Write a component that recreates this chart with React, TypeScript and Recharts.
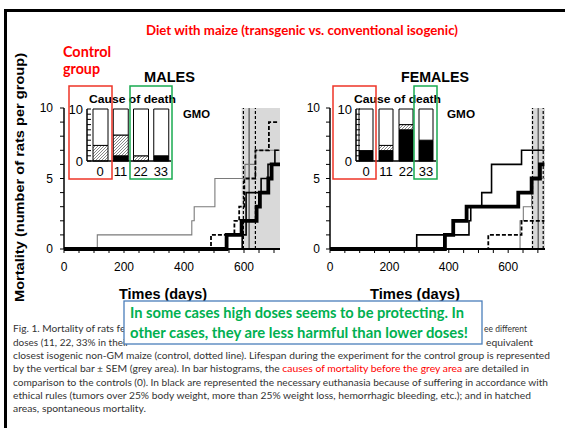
import React from 'react';
import { LineChart, Line, XAxis, YAxis, ReferenceArea, ReferenceLine, BarChart, Bar } from 'recharts';

// ---------- axis ticks ----------
const dayTicks = [0, 50, 100, 150, 200, 250, 300, 350, 400, 450, 500, 550, 600, 650, 700];
const dayLabels = [0, 200, 400, 600];
const mortalityTicks = [0, 1, 2, 3, 4, 5, 6, 7, 8, 9, 10];
const mortalityLabels = [0, 5, 10];
const insetLabels = [0, 10];

// ---------- cause-of-death histograms ----------
const doses = ['0', '11', '22', '33'];
const maleEuthanasia = [0, 1, 0, 1];
const maleSpontaneous = [3, 4, 1, 0];
const femaleEuthanasia = [2, 2, 6, 4];
const femaleSpontaneous = [0, 1, 1, 0];

// ---------- cumulative mortality, males ----------
const maleControlDays = [0, 490, 568, 584, 601, 638, 683, 716];
const maleControlDeaths = [0, 1, 2, 3, 5, 7, 9, 9];
const male11Days = [0, 111, 426, 434, 503, 603, 639, 720];
const male11Deaths = [0, 1, 2, 3, 5, 6, 7, 7];
const male22Days = [0, 594, 607, 657, 680, 703, 716];
const male22Deaths = [0, 1, 4, 5, 6, 7, 7];
const male33Days = [0, 542, 592, 642, 653, 681, 692, 720];
const male33Deaths = [0, 1, 2, 3, 4, 5, 6, 6];
const maleLifespan = [598, 617, 638]; // mean - SEM, mean, mean + SEM
const maleGrey = [592, 720];

// ---------- cumulative mortality, females ----------
const femaleControlDays = [0, 533, 645, 722];
const femaleControlDeaths = [0, 1, 2, 2];
const female11Days = [0, 640, 651, 679, 722];
const female11Deaths = [0, 2, 3, 5, 5];
const female22Days = [0, 292, 468, 474, 511, 544, 645, 722];
const female22Deaths = [0, 1, 2, 3, 4, 6, 7, 7];
const female33Days = [0, 387, 415, 460, 634, 679, 707, 722];
const female33Deaths = [0, 1, 2, 3, 4, 5, 6, 6];
const femaleLifespan = [682, 701, 718];
const femaleGrey = [679, 724];

const SANS = "'Liberation Sans', Arial, sans-serif";
const CAL = "Lato, 'Liberation Sans', sans-serif";

const steps = (days: number[], deaths: number[]) => days.map((d, i) => ({ day: d, deaths: deaths[i] }));
const causes = (e: number[], s: number[]) =>
  doses.map((d, i) => ({ dose: d, euthanasia: e[i], spontaneous: s[i], rest: 10 - e[i] - s[i] }));

type Series = { days: number[]; deaths: number[] };

function SurvivalPanel(props: {
  left: number; width: number; yWidth: number; mLeft: number; end: number;
  grey: number[]; sem: number[]; control: Series; s11: Series; s22: Series; s33: Series; labelMargin: number;
}) {
  const { left, width, yWidth, mLeft, end, grey, sem, control, s11, s22, s33, labelMargin } = props;
  return (
    <div style={{ position: 'absolute', left, top: 90 }}>
      <LineChart width={width} height={189} margin={{ top: 18, right: 10, bottom: 0, left: mLeft }}>
        <ReferenceArea x1={grey[0]} x2={grey[1]} fill="#d9d9d9" fillOpacity={1} stroke="none" ifOverflow="hidden" />
        <XAxis
          type="number" dataKey="day" domain={[0, end]} ticks={dayTicks} interval={0} allowDataOverflow
          tickFormatter={(v: number) => (dayLabels.includes(v) ? String(v) : '')}
          height={30} tickSize={4} tickMargin={9}
          tick={{ fontSize: 12, fill: '#000', fontFamily: SANS }}
          axisLine={{ stroke: '#000', strokeWidth: 2 }} tickLine={{ stroke: '#000', strokeWidth: 1 }}
        />
        <YAxis
          type="number" domain={[0, 10]} ticks={mortalityTicks} interval={0} width={yWidth}
          tickFormatter={(v: number) => (mortalityLabels.includes(v) ? String(v) : '')}
          tickSize={4} tickMargin={labelMargin}
          tick={{ fontSize: 12, fill: '#000', fontFamily: SANS }}
          axisLine={{ stroke: '#000', strokeWidth: 1.5 }} tickLine={{ stroke: '#000', strokeWidth: 1 }}
        />
        <ReferenceLine x={sem[0]} stroke="#000" strokeWidth={1.2} strokeDasharray="3 2" />
        <ReferenceLine x={sem[1]} stroke="#333" strokeWidth={1} />
        <ReferenceLine x={sem[2]} stroke="#000" strokeWidth={1.2} strokeDasharray="3 2" />
        <Line data={steps(s11.days, s11.deaths)} dataKey="deaths" type="stepAfter" stroke="#7a7a7a" strokeWidth={1.1} dot={false} isAnimationActive={false} />
        <Line data={steps(control.days, control.deaths)} dataKey="deaths" type="stepAfter" stroke="#000" strokeWidth={1.8} strokeDasharray="4 2" dot={false} isAnimationActive={false} />
        <Line data={steps(s22.days, s22.deaths)} dataKey="deaths" type="stepAfter" stroke="#000" strokeWidth={1.6} dot={false} isAnimationActive={false} />
        <Line data={steps(s33.days, s33.deaths)} dataKey="deaths" type="stepAfter" stroke="#000" strokeWidth={3.8} dot={false} isAnimationActive={false} />
      </LineChart>
    </div>
  );
}

const InsetYTick = (props: any) => {
  const { x, y, payload } = props;
  const ax = x + 4;
  return (
    <g>
      <line x1={ax} y1={y} x2={ax + 4} y2={y} stroke="#000" strokeWidth={1} />
      {insetLabels.includes(payload.value) && (
        <text x={x} y={y} dy={4.5} textAnchor="end" fontSize={13} fill="#000" fontFamily={SANS}>{payload.value}</text>
      )}
    </g>
  );
};

function CauseInset(props: { left: number; width: number; barSize: number; padLeft: number; e: number[]; s: number[] }) {
  const { left, width, barSize, padLeft, e, s } = props;
  return (
    <div style={{ position: 'absolute', left, top: 100 }}>
      <BarChart width={width} height={79} data={causes(e, s)} margin={{ top: 9, right: 0, bottom: 0, left: 0 }} barSize={barSize}>
        <XAxis
          dataKey="dose" height={18} interval={0} tickLine={false} tickSize={0} tickMargin={6}
          padding={{ left: padLeft, right: 0 }}
          tick={{ fontSize: 13, fill: '#000', fontFamily: SANS }}
          axisLine={{ stroke: '#000', strokeWidth: 1.5 }}
        />
        <YAxis
          type="number" domain={[0, 10]} ticks={mortalityTicks} interval={0} width={27}
          tickSize={0} tickMargin={4} tickLine={false}
          tick={(p: any) => <InsetYTick {...p} />}
          axisLine={{ stroke: '#000', strokeWidth: 1.5 }}
        />
        <Bar dataKey="euthanasia" stackId="c" fill="#000" stroke="#000" strokeWidth={1} isAnimationActive={false} />
        <Bar dataKey="spontaneous" stackId="c" fill="url(#hatch)" stroke="#000" strokeWidth={1} isAnimationActive={false} />
        <Bar dataKey="rest" stackId="c" fill="#fff" stroke="#000" strokeWidth={1} isAnimationActive={false} />
      </BarChart>
    </div>
  );
}

const Txt = (p: {
  x: number; y: number; w?: number; size: number; weight?: string; fill?: string;
  anchor?: string; family?: string; transform?: string; children: React.ReactNode;
}) => (
  <text
    x={p.x} y={p.y} fontSize={p.size} fontWeight={p.weight || 'normal'} fill={p.fill || '#000'}
    textAnchor={(p.anchor as any) || 'start'} fontFamily={p.family || CAL}
    textLength={p.w} lengthAdjust={p.w ? 'spacingAndGlyphs' : undefined} transform={p.transform}
  >
    {p.children}
  </text>
);

const RED = '#ff0000';
const BOXRED = '#ee3427';
const BOXGREEN = '#19ab50';
const GREEN = '#00b050';
const CAP = '#333';
const CAPSIZE = 10;

function Overlay() {
  return (
    <svg width={565} height={428} style={{ position: 'absolute', left: 0, top: 0, pointerEvents: 'none' }}>
      {/* slide frame */}
      <rect x={4} y={9} width={561} height={3} fill="#000" />
      <rect x={4} y={9} width={3} height={419} fill="#000" />

      <Txt x={146} y={35} w={312} size={13.5} weight="bold" fill={RED}>Diet with maize (transgenic vs. conventional isogenic)</Txt>
      <Txt x={63} y={57} w={48} size={15} weight="bold" fill={RED}>Control</Txt>
      <Txt x={63} y={74} w={37} size={15} weight="bold" fill={RED}>group</Txt>

      <Txt x={144} y={82} w={51} size={14} weight="bold" family={SANS}>MALES</Txt>
      <Txt x={401} y={82} w={68} size={14} weight="bold" family={SANS}>FEMALES</Txt>

      <Txt x={24} y={177.5} w={249} size={13} weight="bold" family={SANS} anchor="middle" transform="rotate(-90 24 177.5)">
        Mortality (number of rats per group)
      </Txt>

      <Txt x={89} y={103} w={87} size={11.5} weight="bold" family={SANS}>Cause of death</Txt>
      <Txt x={354} y={103} w={87} size={11.5} weight="bold" family={SANS}>Cause of death</Txt>
      <Txt x={183} y={118} w={27} size={11} weight="bold" family={SANS}>GMO</Txt>
      <Txt x={447} y={118} w={28} size={11} weight="bold" family={SANS}>GMO</Txt>

      <rect x={69} y={86} width={43} height={93} fill="none" stroke={BOXRED} strokeWidth={1.5} />
      <rect x={130} y={86} width={42} height={93} fill="none" stroke={BOXGREEN} strokeWidth={1.5} />
      <rect x={333} y={86} width={43} height={93} fill="none" stroke={BOXRED} strokeWidth={1.5} />
      <rect x={414} y={86} width={23} height={93} fill="none" stroke={BOXGREEN} strokeWidth={1.5} />

      <Txt x={119} y={299} w={88} size={15} weight="bold" family={SANS}>Times (days)</Txt>
      <Txt x={370} y={299} w={90} size={15} weight="bold" family={SANS}>Times (days)</Txt>

      {/* caption (its middle is hidden by the annotation box) */}
      <Txt x={13} y={331.5} w={118} size={CAPSIZE} fill={CAP}>Fig. 1. Mortality of rats fed</Txt>
      <Txt x={527} y={331.5} w={43} size={CAPSIZE} fill={CAP} anchor="end">ee different</Txt>
      <Txt x={13} y={345.5} w={116} size={CAPSIZE} fill={CAP}>doses (11, 22, 33% in their</Txt>
      <Txt x={533} y={345.5} w={47} size={CAPSIZE} fill={CAP} anchor="end">equivalent</Txt>
      <Txt x={13} y={358.5} w={537} size={CAPSIZE} fill={CAP}>closest isogenic non-GM maize (control, dotted line). Lifespan during the experiment for the control group is represented</Txt>
      <text x={13} y={372} fontSize={CAPSIZE} fill={CAP} fontFamily={CAL} textLength={516} lengthAdjust="spacingAndGlyphs">
        by the vertical bar ± SEM (grey area).  In bar histograms, the <tspan fill={RED}>causes of mortality before the grey area</tspan> are detailed in
      </text>
      <Txt x={13} y={385.5} w={535} size={CAPSIZE} fill={CAP}>comparison to the controls (0). In black are represented the necessary euthanasia because of suffering in accordance with</Txt>
      <Txt x={13} y={398.5} w={518} size={CAPSIZE} fill={CAP}>ethical rules (tumors over 25% body weight, more than 25% weight loss, hemorrhagic bleeding, etc.); and in hatched</Txt>
      <Txt x={13} y={411.5} w={133} size={CAPSIZE} fill={CAP}>areas, spontaneous mortality.</Txt>

      {/* annotation */}
      <rect x={124} y={301} width={358} height={43} fill="#fff" stroke="#4a7ebb" strokeWidth={1.3} />
      <Txt x={130} y={318} w={334} size={14.5} weight="bold" fill={GREEN}>In some cases high doses seems to be protecting. In</Txt>
      <Txt x={130} y={338} w={338} size={14.5} weight="bold" fill={GREEN}>other cases, they are less harmful than lower doses!</Txt>
    </svg>
  );
}

export default function App() {
  return (
    <div style={{ position: 'absolute', left: 0, top: 0, width: 565, height: 428, background: '#fff', overflow: 'hidden' }}>
      <svg width={0} height={0} style={{ position: 'absolute' }}>
        <defs>
          <pattern id="hatch" patternUnits="userSpaceOnUse" width={3} height={3}>
            <rect width={3} height={3} fill="#fff" />
            <path d="M-1,1 L1,-1 M0,3 L3,0 M2,4 L4,2" stroke="#555" strokeWidth={0.7} />
          </pattern>
        </defs>
      </svg>
      <SurvivalPanel
        left={0} width={290} yWidth={44} mLeft={20} end={720} labelMargin={7}
        grey={maleGrey} sem={maleLifespan}
        control={{ days: maleControlDays, deaths: maleControlDeaths }}
        s11={{ days: male11Days, deaths: male11Deaths }}
        s22={{ days: male22Days, deaths: male22Deaths }}
        s33={{ days: male33Days, deaths: male33Deaths }}
      />
      <SurvivalPanel
        left={290} width={265} yWidth={40} mLeft={0} end={724} labelMargin={6}
        grey={femaleGrey} sem={femaleLifespan}
        control={{ days: femaleControlDays, deaths: femaleControlDeaths }}
        s11={{ days: female11Days, deaths: female11Deaths }}
        s22={{ days: female22Days, deaths: female22Deaths }}
        s33={{ days: female33Days, deaths: female33Deaths }}
      />
      <CauseInset left={60} width={111} barSize={15} padLeft={3} e={maleEuthanasia} s={maleSpontaneous} />
      <CauseInset left={329} width={107} barSize={14} padLeft={0} e={femaleEuthanasia} s={femaleSpontaneous} />
      <Overlay />
    </div>
  );
}
